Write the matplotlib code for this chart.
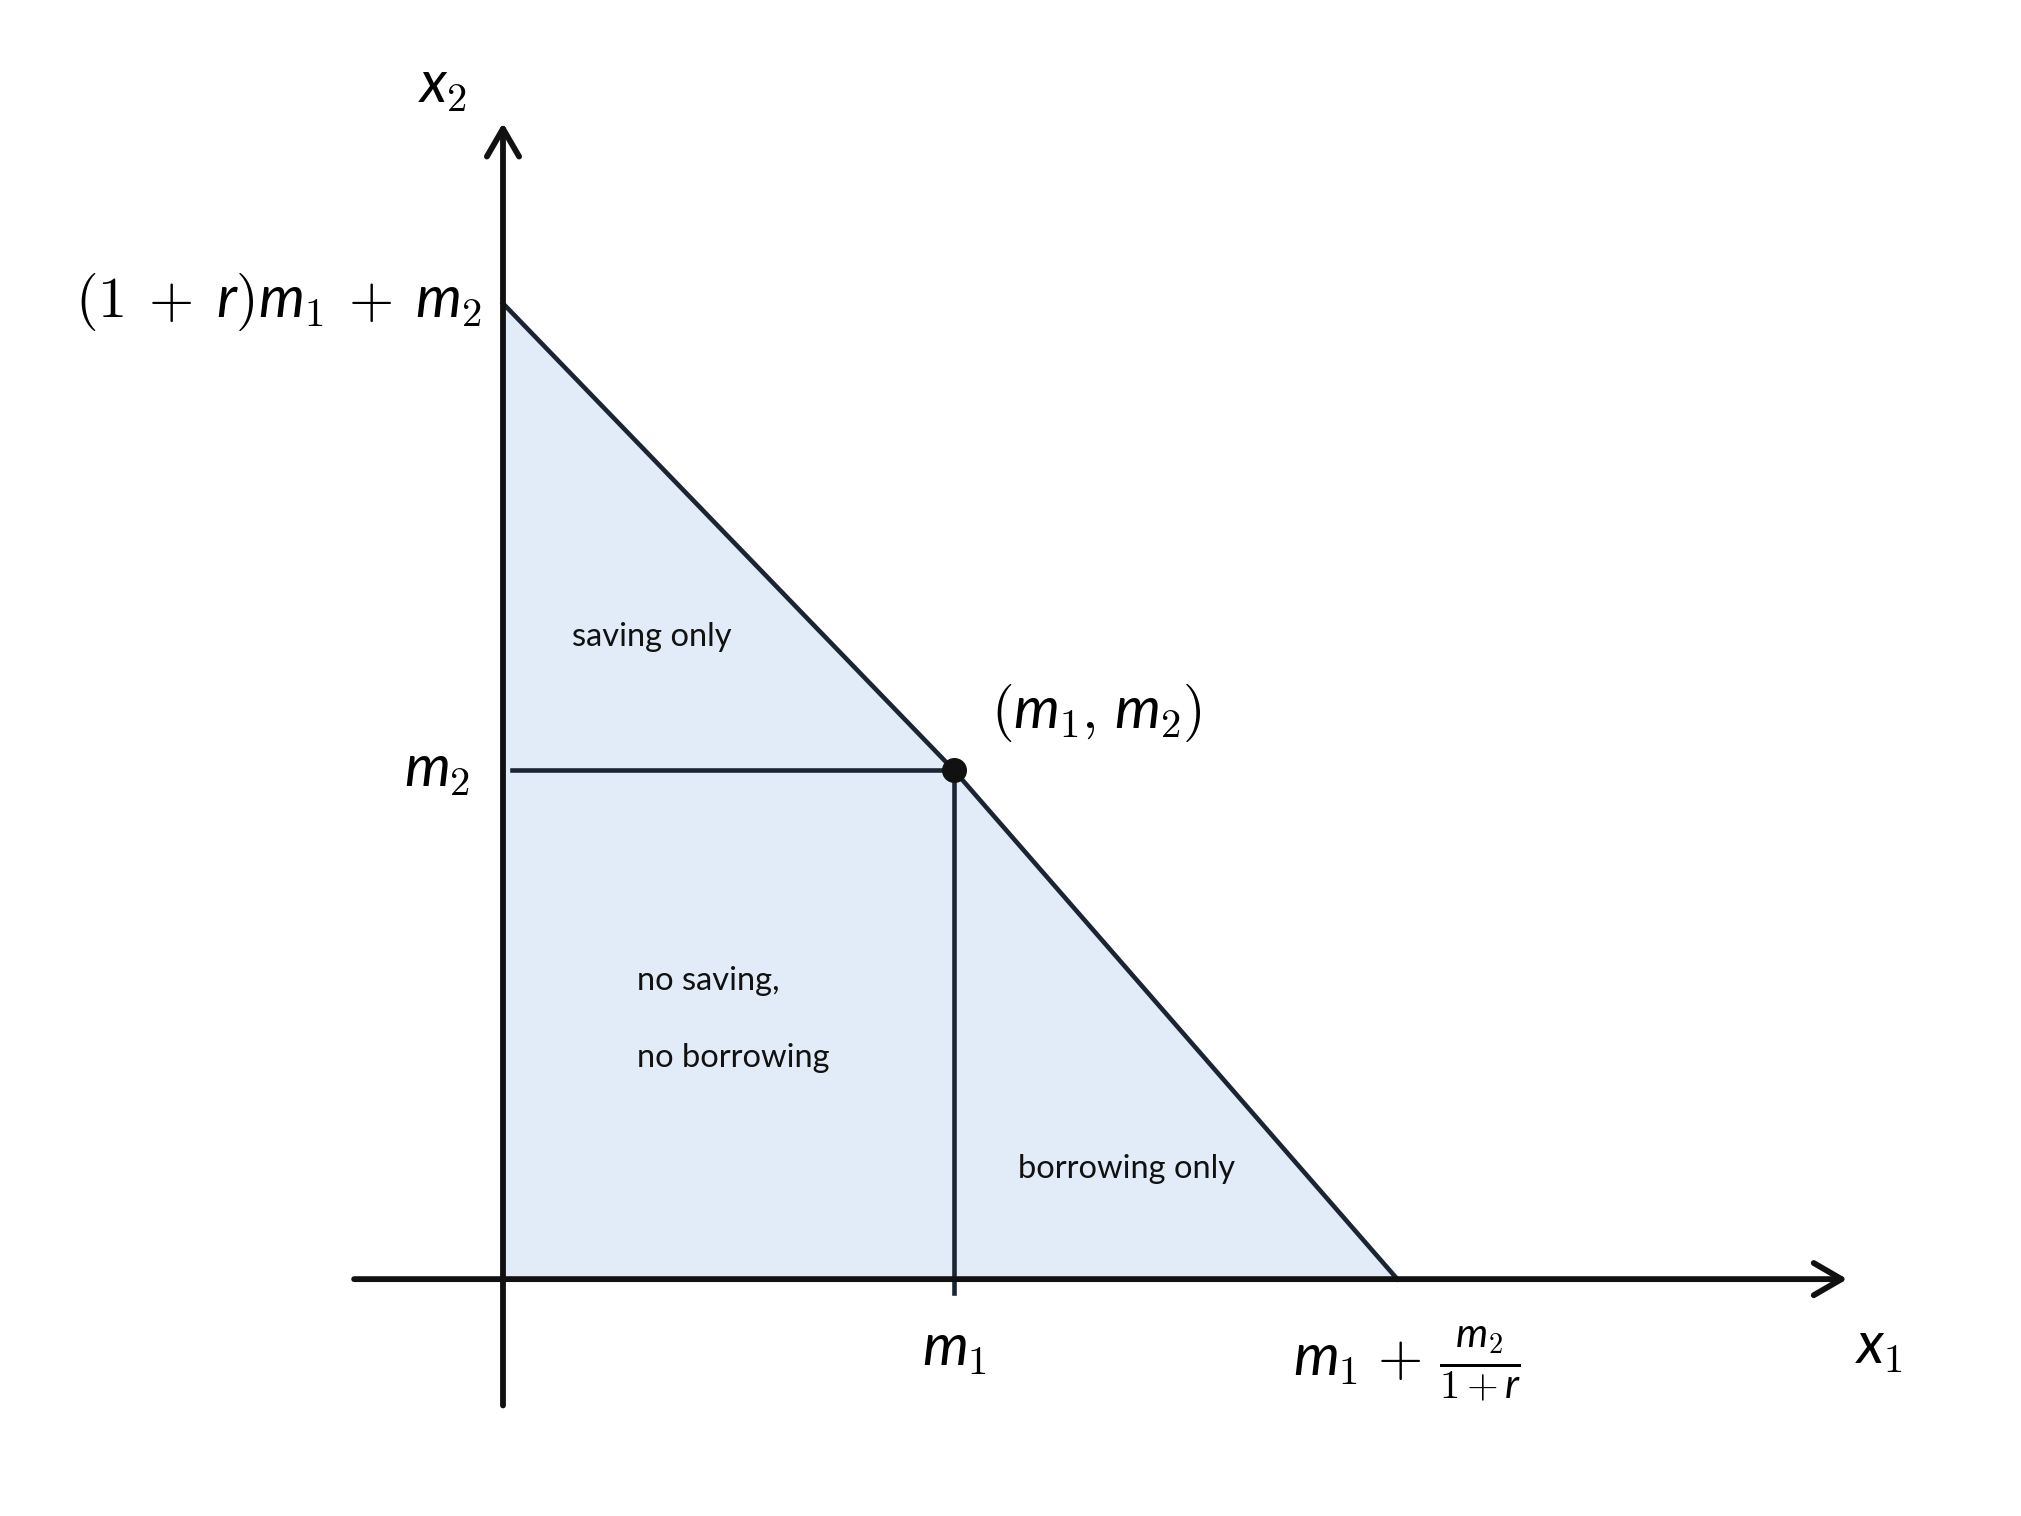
import matplotlib
matplotlib.use("Agg")
import matplotlib.pyplot as plt
from matplotlib.patches import Polygon

# ============================
# Intertemporal budget set with endowment (m1, m2)
# ============================

plt.rcParams['mathtext.fontset'] = 'custom'
plt.rcParams['mathtext.rm'] = 'cmr10'
plt.rcParams['mathtext.it'] = 'Lato:italic'
plt.rcParams['axes.unicode_minus'] = False

# Budget line corners (same units on both axes)
budget_x = [0.0, 4.0, 7.93]
budget_y = [8.65, 4.51, 0.0]
endow_x = 4.0
endow_y = 4.51

# Tick labels
x_ticks = [4.0, 7.93]
x_tick_labels = [r"$m_1 $", r"$m_1 \,+\, \frac{m_2}{1+r}$"]
y_ticks = [4.51, 8.65]
y_tick_labels = [r"$m_2$", r"$(1 \;+\; r)m_1 \;+\; m_2$"]

# Region names
region_labels = ["saving only", "no saving,", "no borrowing", "borrowing only"]
region_pos = [(0.61, 5.61), (1.19, 2.56), (1.19, 1.88), (4.57, 0.90)]

fill_color = "#e2ecf8"
line_color = "#1b2433"
axis_color = "#111111"

fig = plt.figure(figsize=(20.21, 15.16), dpi=100)
ax = fig.add_axes([0, 0, 1, 1])
ax.set_xlim(-4.46, 13.46)
ax.set_ylim(-2.10, 11.34)
ax.axis('off')

# shaded budget set
corners = [(0, 0)] + list(zip(budget_x, budget_y))
ax.add_patch(Polygon(corners, closed=True, facecolor=fill_color, edgecolor='none', zorder=1))

# budget line
ax.plot(budget_x, budget_y, color=line_color, lw=3.3, zorder=3)

# guides to the endowment point
ax.plot([0.08, endow_x], [endow_y, endow_y], color=line_color, lw=3.3, zorder=3)
ax.plot([endow_x, endow_x], [-0.12, endow_y], color=line_color, lw=3.3, zorder=3)
ax.plot(endow_x, endow_y, 'o', color=axis_color, markersize=17, zorder=5)

# axes with open arrow heads
arrow = dict(arrowstyle='->,head_length=1.0,head_width=0.58', lw=4.2,
             color=axis_color, mutation_scale=20, shrinkA=0, shrinkB=0)
ax.annotate('', xy=(11.92, 0), xytext=(-1.32, 0), arrowprops=arrow, zorder=4)
ax.annotate('', xy=(0, 10.25), xytext=(0, -1.12), arrowprops=arrow, zorder=4)

# axis names
ax.text(12.2, -0.74, r"$x_1$", fontsize=42, ha='center', va='baseline')
ax.text(-0.54, 10.44, r"$x_2$", fontsize=42, ha='center', va='baseline')

# tick labels
ax.text(x_ticks[0], -0.76, x_tick_labels[0], fontsize=42, ha='center', va='baseline')
ax.text(x_ticks[1] + 0.09, -0.85, x_tick_labels[1], fontsize=42, ha='center', va='baseline')
ax.text(-0.29, y_ticks[0] - 0.14, y_tick_labels[0], fontsize=42, ha='right', va='baseline')
ax.text(-0.19, y_ticks[1] - 0.12, y_tick_labels[1], fontsize=42, ha='right', va='baseline')

# endowment label
ax.text(4.33, 4.89, r"$(m_1,\, m_2)$", fontsize=42, ha='left', va='baseline')

for label, (px, py) in zip(region_labels, region_pos):
    ax.text(px, py, label, fontsize=23.5, family='Lato', ha='left', va='baseline', color='#111111')

fig.savefig("out.png", dpi=100)
